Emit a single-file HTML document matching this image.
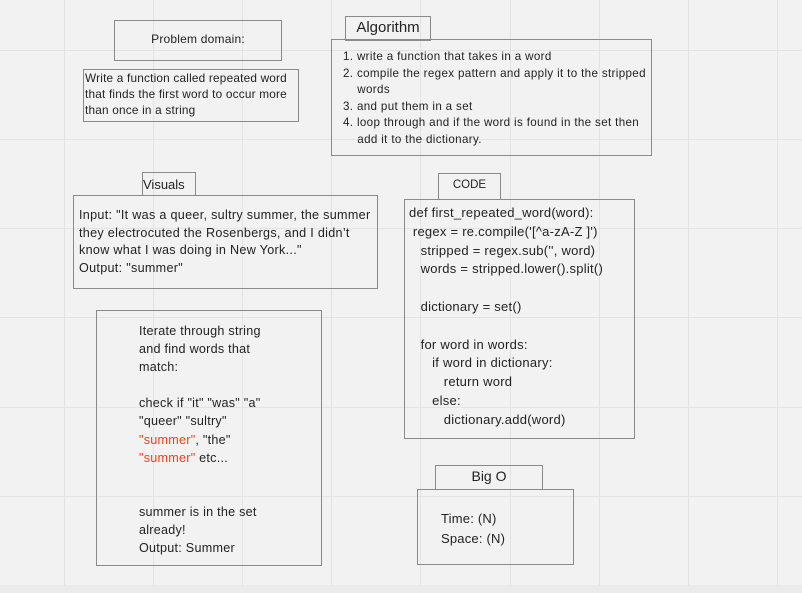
<!DOCTYPE html>
<html><head><meta charset="utf-8"><style>
body{margin:0;width:802px;height:593px;overflow:hidden;background:#f2f2f2;font-family:"Liberation Sans",sans-serif;color:#222;position:relative}
.v{position:absolute;top:0;width:1px;height:593px;background:#e3e3e3}
.h{position:absolute;left:0;height:1px;width:802px;background:#e3e3e3}
.b{position:absolute;border:1px solid #8a8a8a;box-sizing:border-box;background:transparent}
.t{position:absolute;white-space:pre;}
</style></head><body>
<div class="v" style="left:64px"></div><div class="v" style="left:153px"></div><div class="v" style="left:242px"></div><div class="v" style="left:331px"></div><div class="v" style="left:420px"></div><div class="v" style="left:510px"></div><div class="v" style="left:599px"></div><div class="v" style="left:688px"></div><div class="v" style="left:777px"></div>
<div class="h" style="top:50px"></div><div class="h" style="top:139px"></div><div class="h" style="top:228px"></div><div class="h" style="top:317px"></div><div class="h" style="top:407px"></div><div class="h" style="top:496px"></div><div class="h" style="top:585px;height:8px;background:#ebebeb"></div>

<div class="b" style="left:114px;top:20px;width:168px;height:41px"></div>
<div class="t" style="left:114px;width:168px;text-align:center;top:32px;font-size:12px;letter-spacing:0.2px">Problem domain:</div>

<div class="b" style="left:83px;top:69px;width:216px;height:53px"></div>
<div class="t" style="left:85px;top:70px;font-size:11.8px;line-height:16px;letter-spacing:0.2px">Write a function called repeated word
that finds the first word to occur more
than once in a string</div>

<div class="b" style="left:345px;top:16px;width:86px;height:25px"></div>
<div class="t" style="left:345px;width:86px;text-align:center;top:19px;font-size:15px">Algorithm</div>

<div class="b" style="left:331px;top:39px;width:321px;height:117px"></div>
<div class="t" style="left:343px;top:49px;font-size:11.6px;line-height:16.6px;letter-spacing:0.35px">1. write a function that takes in a word
2. compile the regex pattern and apply it to the stripped
    words
3. and put them in a set
4. loop through and if the word is found in the set then
    add it to the dictionary.</div>

<div class="b" style="left:142px;top:172px;width:54px;height:24px"></div>
<div class="t" style="left:143px;top:177px;font-size:13px">Visuals</div>

<div class="b" style="left:73px;top:195px;width:305px;height:94px"></div>
<div class="t" style="left:79px;top:207px;font-size:12.6px;line-height:17.7px;letter-spacing:0.3px">Input: "It was a queer, sultry summer, the summer
they electrocuted the Rosenbergs, and I didn’t
know what I was doing in New York..."
Output: "summer"</div>

<div class="b" style="left:438px;top:173px;width:63px;height:27px"></div>
<div class="t" style="left:438px;width:63px;text-align:center;top:179px;font-size:11.5px">CODE</div>

<div class="b" style="left:404px;top:199px;width:231px;height:240px"></div>
<div class="t" style="left:409px;top:204px;font-size:13px;line-height:18.8px;letter-spacing:0.25px">def first_repeated_word(word):
 regex = re.compile('[^a-zA-Z ]')
   stripped = regex.sub('', word)
   words = stripped.lower().split()

   dictionary = set()

   for word in words:
      if word in dictionary:
         return word
      else:
         dictionary.add(word)</div>

<div class="b" style="left:96px;top:310px;width:226px;height:256px"></div>
<div class="t" style="left:139px;top:322px;font-size:12.6px;line-height:18.1px;letter-spacing:0.25px">Iterate through string
and find words that
match:

check if "it" "was" "a"
"queer" "sultry"
<span style="color:#f2401c">"summer"</span>, "the"
<span style="color:#f2401c">"summer"</span> etc...


summer is in the set
already!
Output: Summer</div>

<div class="b" style="left:435px;top:465px;width:108px;height:25px"></div>
<div class="t" style="left:435px;width:108px;text-align:center;top:468px;font-size:14px">Big O</div>

<div class="b" style="left:417px;top:489px;width:157px;height:76px"></div>
<div class="t" style="left:441px;top:509px;font-size:13px;line-height:20px;letter-spacing:0.2px">Time: (N)
Space: (N)</div>
</body></html>
